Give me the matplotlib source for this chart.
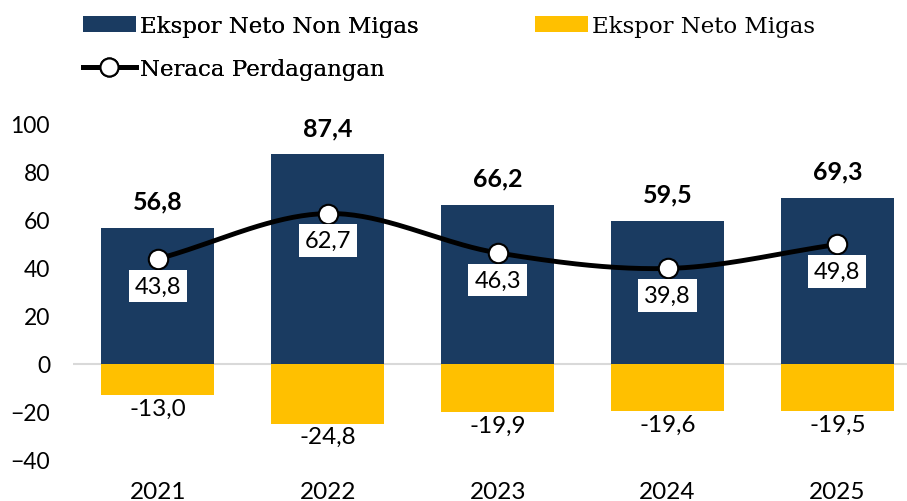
import matplotlib
matplotlib.use("Agg")
import matplotlib.pyplot as plt
from matplotlib.lines import Line2D
from matplotlib.patches import Patch
import numpy as np

plt.rcParams["font.family"] = ["Lato", "DejaVu Sans"]

YEARS = ["2021", "2022", "2023", "2024", "2025"]
NON_MIGAS = [56.8, 87.4, 66.2, 59.5, 69.3]
MIGAS = [-13.0, -24.8, -19.9, -19.6, -19.5]
NERACA = [43.8, 62.7, 46.3, 39.8, 49.8]

NAVY = "#1a3b61"
YELLOW = "#ffc000"
SERIF = ["DejaVu Serif"]


def fmt(v):
    return f"{v:.1f}".replace(".", ",")


def smooth(x, y, n=40):
    # Catmull-Rom spline through the points, like Excel's smoothed line
    x = np.asarray(x, float)
    y = np.asarray(y, float)
    px = np.concatenate([[2 * x[0] - x[1]], x, [2 * x[-1] - x[-2]]])
    py = np.concatenate([[2 * y[0] - y[1]], y, [2 * y[-1] - y[-2]]])
    xs, ys = [], []
    t = np.linspace(0, 1, n)
    for i in range(1, len(px) - 2):
        for arr, out in ((px, xs), (py, ys)):
            p0, p1, p2, p3 = arr[i - 1], arr[i], arr[i + 1], arr[i + 2]
            out.extend(0.5 * ((2 * p1) + (-p0 + p2) * t
                              + (2 * p0 - 5 * p1 + 4 * p2 - p3) * t ** 2
                              + (-p0 + 3 * p1 - 3 * p2 + p3) * t ** 3))
    return np.array(xs), np.array(ys)


fig = plt.figure(figsize=(9.07, 5.02), dpi=100)
ax = fig.add_axes([0.0805, 0.0817, 0.9195, 0.6693])

x = np.arange(len(YEARS))
ax.bar(x, NON_MIGAS, width=0.665, color=NAVY, zorder=2)
ax.bar(x, MIGAS, width=0.665, color=YELLOW, zorder=2)
ax.axhline(0, color="#d9d9d9", linewidth=1.5, zorder=1)

sx, sy = smooth(x, NERACA)
ax.plot(sx, sy, color="black", linewidth=3.5, zorder=3, solid_capstyle="round")
ax.plot(x, NERACA, linestyle="none", marker="o", markersize=14,
        markerfacecolor="white", markeredgecolor="black", markeredgewidth=1.5, zorder=4)

for xi, v in zip(x, NON_MIGAS):
    ax.annotate(fmt(v), (xi, v), xytext=(0, 11), textcoords="offset points",
                ha="center", va="bottom", fontsize=18, fontweight="bold")
for xi, v in zip(x, MIGAS):
    ax.annotate(fmt(v), (xi, v), xytext=(0, -2), textcoords="offset points",
                ha="center", va="top", fontsize=17.5)
for xi, v in zip(x, NERACA):
    ax.annotate(fmt(v), (xi, v), xytext=(0, -19.5), textcoords="offset points",
                ha="center", va="center", fontsize=17,
                bbox=dict(boxstyle="square,pad=0.25", facecolor="white", edgecolor="none"),
                zorder=5)

ax.set_xlim(-0.5, 4.41)
ax.set_ylim(-40, 100)
ax.set_yticks(range(-40, 101, 20))
ax.set_xticks(x)
ax.set_xticklabels(YEARS)
ax.tick_params(axis="both", length=0)
ax.tick_params(axis="x", pad=15, labelsize=17.5)
ax.tick_params(axis="y", pad=16.5, labelsize=16.5)
for s in ax.spines.values():
    s.set_visible(False)

leg_kw = dict(loc="upper left", frameon=False, prop={"family": SERIF, "size": 16.5},
              handlelength=2.3, handleheight=0.65, handletextpad=0.2,
              labelspacing=0.9, borderpad=0, borderaxespad=0)
left_handles = [
    Patch(facecolor=NAVY, label="Ekspor Neto Non Migas"),
    Line2D([0], [0], color="black", linewidth=3.5, marker="o", markersize=13,
           markerfacecolor="white", markeredgecolor="black", markeredgewidth=1.5,
           label="Neraca Perdagangan"),
]
leg1 = fig.legend(handles=left_handles, bbox_to_anchor=(0.0915, 0.968), **leg_kw)
fig.add_artist(leg1)
fig.legend(handles=[Patch(facecolor=YELLOW, label="Ekspor Neto Migas")],
           bbox_to_anchor=(0.59, 0.968), **leg_kw)

fig.savefig("out.png", dpi=100)
